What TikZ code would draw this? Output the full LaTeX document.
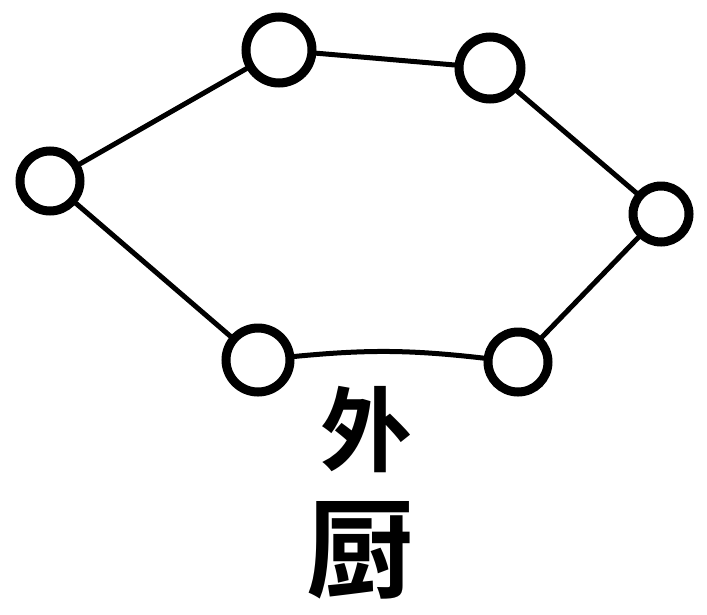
\documentclass[tikz,border=0pt]{standalone}
\usepackage{fontspec}
\newfontfamily\cjk{Noto Sans CJK SC Bold}
\begin{document}
\begin{tikzpicture}[x=1pt,y=-1pt,
  ring/.style={circle,draw=black,line width=9pt,minimum size=60pt,inner sep=0pt},
  edge/.style={draw=black,line width=5pt,line cap=round},
  label/.style={font=\cjk\fontsize{92}{92}\selectfont,inner sep=0pt}]
\useasboundingbox (0,0) rectangle (707,614);
\node[ring,minimum size=66pt] (tl) at (279,50) {};
\node[ring,minimum size=62pt] (tr) at (490,68) {};
\node[ring] (l) at (50,181) {};
\node[ring,minimum size=56pt] (r) at (661,214) {};
\node[ring,minimum size=64pt] (bl) at (258,360) {};
\node[ring] (br) at (518,362) {};
\draw[edge] (tl) -- (tr);
\draw[edge] (tr) -- (r);
\draw[edge] (r) -- (br);
\draw[edge] (br) to[bend right=6] (bl);
\draw[edge] (bl) -- (l);
\draw[edge] (l) -- (tl);
\node[label] (t1) at (366,430) {外};
\node[label,font=\cjk\fontsize{108}{108}\selectfont] (t2) at (360,550) {厨};
\end{tikzpicture}
\end{document}
